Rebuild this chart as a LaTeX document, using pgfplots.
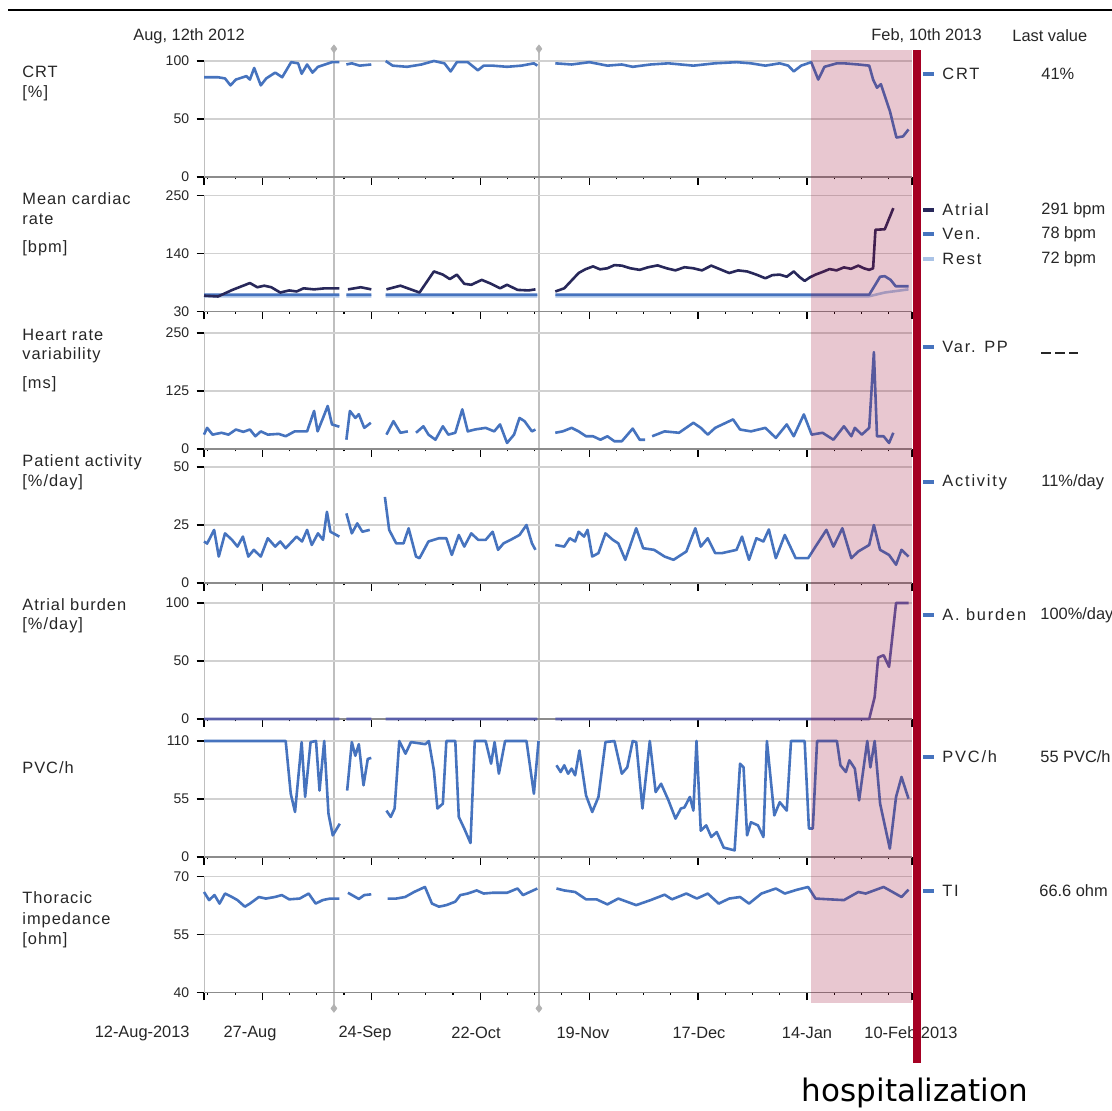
\documentclass[border=0pt]{standalone}
\usepackage{pgfplots}
\pgfplotsset{compat=1.18}
\usepackage{fontspec}
\setmainfont{Liberation Sans}
\newfontfamily\dejavu{DejaVu Sans}
\newfontfamily\lsA{Liberation Sans}[LetterSpace=6.0]
\newfontfamily\lsB{Liberation Sans}[LetterSpace=11.0]
\definecolor{bl}{HTML}{4673BE}
\definecolor{atr}{HTML}{28285A}
\definecolor{rst}{HTML}{AAC3E6}
\definecolor{hosp}{HTML}{A50023}
\definecolor{pk}{RGB}{150,0,40}
\definecolor{abc}{HTML}{5A5FAA}
\definecolor{txt}{HTML}{262626}
\newcommand\lf{\fontsize{8.2}{9.8}\selectfont}
\pgfplotsset{panel/.style={
  scale only axis, width=354pt, height=58pt,
  xmin=0, xmax=182,
  axis x line*=bottom, axis y line*=left,
  x axis line style={draw=black!45, line width=0.6pt, -},
  y axis line style={draw=black!25, line width=0.5pt, -},
  xtick={0,15,43,71,99,127,155,182},
  minor xtick={1,8,22,29,36,50,57,64,78,85,92,106,113,120,134,141,148,162,169,176},
  xticklabels={},
  tick align=outside,
  major tick length=3.75pt, minor tick length=1.2pt,
  tick style={black, line width=0.6pt},
  ymajorgrids, grid style={draw=black!18, line width=0.6pt},
  yticklabel style={font=\fontsize{7}{8}\selectfont, text=txt, inner sep=0pt, xshift=-3.5pt},
  /pgf/number format/assume math mode=true,
  clip=false,
  unbounded coords=jump,
  every axis plot/.append style={line width=1.3pt, line join=round},
}}
\begin{document}
\begin{tikzpicture}
\useasboundingbox (0pt,0pt) rectangle (556pt,-555pt);
\begin{scope}[x=0.5pt,y=-0.5pt]
\draw[line width=0.8pt] (8,10) -- (1112,10);
\draw[black!25, line width=0.6pt] (334,49) -- (334,1010);
\draw[black!25, line width=0.6pt] (539,49) -- (539,1010);
\end{scope}

% CRT
\begin{axis}[panel, at={(102pt,-30.5pt)}, anchor=north west, ymin=0, ymax=100, ytick={0,50,100}]
\addplot[bl] coordinates {(0,86)(3.6,86)(5.4,85)(6.8,79)(8.2,84)(10.9,87)(11.8,84)(12.9,94)(14.6,79)(16,85)(18.3,90)(20.1,86)(22.4,99)(24.2,98)(25.1,89)(26.5,97)(27.9,90)(29.3,95)(31.1,97)(32.9,99)(34.8,99)(35.7,nan)
(36.6,97)(38,98)(40,96)(43,97)(45,nan)
(46.7,100)(48.5,96)(52.2,95)(55.9,97)(59.1,100)(61.8,98)(63.4,91)(65,99)(67.8,99)(70.4,92)(71.9,96)(74.2,96)(77.9,95)(81.6,96)(84.8,98)(85.7,96)(88,nan)
(90.3,98)(94.5,97)(99.1,99)(103.7,96)(107.4,97)(110.2,95)(114.8,97)(119.4,98)(125.8,96)(131.3,98)(136.9,99)(140.6,98)(144.3,96)(148,98)(150.2,96)(151.6,91)(153.5,96)(156.1,99)(157.9,84)(159.5,95)(162.7,98)(164.5,98)(168.2,97)(171,96)(172,84)(173,77)(174,80)(176.3,57)(178,34)(179.7,35)(181.1,41)};
\addplot[only marks, mark=diamond*, black!30, line width=0.3pt, mark size=2pt] coordinates {(33.4,110.5)(86.1,110.5)};
\end{axis}

% Mean cardiac rate
\begin{axis}[panel, at={(102pt,-97.75pt)}, anchor=north west, ymin=30, ymax=250, ytick={30,140,250}]
\addplot[rst] coordinates {(0,59)(34.8,59)(35.7,nan)(36.6,59)(43,59)(45,nan)(46.7,59)(85.7,59)(88,nan)(90.3,59)(171,59)(175,66)(181.1,72)};
\addplot[bl] coordinates {(0,62)(34.8,62)(35.7,nan)(36.6,62)(43,62)(45,nan)(46.7,62)(85.7,62)(88,nan)(90.3,62)(171,62)(172.5,80)(173.8,96)(175,97)(176.5,90)(177.8,78)(181.1,78)};
\addplot[atr] coordinates {(0,60)(3.6,58.5)(7.3,71)(11.8,84)(13.7,76)(15.5,79)(17.3,76)(19.6,66)(21.9,70)(23.8,68)(25.6,74)(28.3,72)(31.1,74)(34.8,74)(35.7,nan)
(37,72)(40.3,76)(43,72)(45,nan)
(46.9,72)(50.5,79)(55.4,66)(59.1,106)(61.4,100)(63.2,91.5)(65,100)(66.9,82.6)(68.7,80.7)(71.4,90)(73.8,82.6)(76.1,74)(77.9,80.7)(80.6,71)(83.4,70)(85.2,72)(88,nan)
(90.3,68)(92.6,74)(96.3,103)(98,110)(100,115.6)(101.8,110)(103.7,112)(105.5,118)(107.4,117)(109.6,112)(112,109)(114.2,114)(116.6,117.5)(118.9,112)(121.2,108)(123.5,114)(125.8,112)(128,108)(130.4,117)(132.7,110)(135,103)(137.3,108)(139.6,106)(142,100)(144.3,93)(146.1,99)(148,100)(149.8,96)(151.6,106)(153,96)(154.4,88)(155.8,95)(157.2,100)(159,105)(160.8,110.5)(162.6,108)(164.5,113.7)(166.3,111)(168.2,117)(169.6,112)(171,109)(172,112)(172.6,185)(175,186)(177.2,226)};
\end{axis}

% HRV
\begin{axis}[panel, at={(102pt,-166.5pt)}, anchor=north west, ymin=0, ymax=250, ytick={0,125,250}]
\addplot[bl] coordinates {(0,31)(0.8,45.6)(2.2,31)(4.5,35)(6.3,31)(8.2,42)(10.1,37)(11.8,42)(13.2,27.5)(14.6,38)(16.4,31)(19.2,32.6)(21,27.5)(23.3,38)(26.5,38)(28.3,82)(29.2,38)(30.6,67)(31.8,92.8)(32.9,53)(34.8,48)(35.7,nan)
(36.6,20)(37.5,82)(38.9,67)(39.8,75)(41.2,45.6)(42.9,56.5)(45,nan)
(46.9,31)(48.7,60)(50.5,35)(52.4,38)(53.4,nan)
(54.5,35)(56.4,49)(57.7,31)(59.5,20)(61.4,49)(62.8,31)(64.6,35)(66.4,85.5)(67.8,38)(69.6,42)(72.4,45.6)(74.6,38)(76.1,53)(77.9,13)(79.7,31)(81.1,67)(82.4,60)(84.3,38)(85.2,42)(88,nan)
(90.3,35)(92.2,38)(94.5,45.6)(96.3,38)(98.2,27.5)(100,27.5)(101.9,20)(103.7,27.5)(105.5,16.7)(107.4,16.7)(110.2,44)(112,20)(113.4,20)(114.3,nan)
(115.2,27.5)(118.4,38)(122.1,35)(125.8,56.5)(127.7,45.6)(129.5,31)(131.4,45.6)(136,63.8)(137.8,42)(140.6,38)(144.3,45.6)(147,24)(149.8,53)(151.6,27.5)(154.2,74.6)(156.2,31)(159,35)(161.8,20)(164.5,49)(166.4,27.5)(167.3,45.6)(169.1,31)(171,45.6)(172.2,208.7)(173,27.5)(174.7,27.5)(176.1,13)(177.2,35)};
\end{axis}

% Activity
\begin{axis}[panel, at={(102pt,-233.5pt)}, anchor=north west, ymin=0, ymax=50, ytick={0,25,50}]
\addplot[bl] coordinates {(0,17.9)(0.8,17)(2.6,22.9)(3.8,11.4)(5.4,21.4)(7.2,18.6)(8.6,15.7)(10,20)(11.4,11.4)(12.8,14.3)(14.6,11.4)(16.4,19.3)(18.3,15.7)(19.6,17.9)(21,15)(23.8,20)(25.2,17.9)(26.5,22.9)(27.7,16.4)(29.3,21.4)(30.6,18.6)(31.6,30.7)(32.5,22.1)(34.8,20)(35.7,nan)
(36.6,30)(38,21.4)(39.4,25.7)(40.7,22.1)(42.6,22.9)(45,nan)
(46.5,37.1)(47.6,22.9)(49.4,17.1)(51.3,17.1)(52.6,23.6)(54.5,11.4)(55.4,10.7)(57.7,17.9)(60.4,19.3)(62.3,19.3)(63.7,12.1)(65.5,20.7)(66.9,15.7)(68.7,21.4)(70.5,18.6)(72.4,18.6)(74.2,22.1)(75.6,14.3)(77,17.1)(78.8,18.6)(81.1,20.7)(82.9,25)(84.3,17.1)(85.2,14.3)(88,nan)
(90.3,16.4)(92.6,15.7)(94,19.3)(95.4,17.9)(96.3,22.1)(97.7,20)(98.6,22.9)(99.8,11.4)(101.4,12.9)(103.2,21.4)(105.1,18.6)(106.5,17.1)(108.3,10)(111.1,23.6)(112.9,15)(115.7,14.3)(118.4,11.4)(120.7,10)(124,13.6)(126.3,23.6)(127.7,15.7)(129.5,19.3)(131.4,12.9)(133.2,12.9)(136.9,14.3)(138.3,20)(140.1,10)(142,19.3)(143.8,17.9)(145.2,23.1)(147,10.7)(149.3,20.7)(152.1,10.7)(155.3,10.7)(157.2,15.7)(160,22.9)(161.8,15.7)(164.1,23.6)(166.4,10.7)(168.2,13.6)(171,16.4)(172.2,25)(173.8,14.3)(176.1,12.1)(177.9,7.9)(179.3,14.3)(181.1,11.4)};
\end{axis}

% Atrial burden
\begin{axis}[panel, at={(102pt,-301.5pt)}, anchor=north west, ymin=0, ymax=100, ytick={0,50,100}]
\addplot[abc] coordinates {(0,0)(34.8,0)(35.7,nan)(36.6,0)(43,0)(45,nan)(46.7,0)(85.7,0)(88,nan)(90.3,0)(171,0)(172.4,19)(173.3,53)(174.7,55)(176.1,45)(177.9,100)(181.1,100)};
\end{axis}

% PVC/h
\begin{axis}[panel, at={(102pt,-370.5pt)}, anchor=north west, ymin=0, ymax=110, ytick={0,55,110}]
\addplot[bl] coordinates {(0,110)(21,110)(22.3,60)(23.4,42.7)(25.1,109)(26,57)(27.4,109)(28.8,110)(29.7,63)(30.9,110)(32,41)(33.1,20.5)(34.9,31.6)(35.8,nan)
(36.8,63)(38,109)(38.9,96)(39.8,107)(41,68)(42.1,93)(43,94)(45,nan)
(46.9,44)(48,38)(49,46)(50.2,110)(51.8,98)(53.2,109)(56.9,107)(57.8,110)(59.1,82)(60,46)(61.4,50.6)(62.3,110)(64.6,110)(65.5,38)(66.9,27)(68.5,13.3)(69.6,110)(72.4,110)(73.8,88.5)(74.7,109)(75.8,79)(77.4,110)(82.9,110)(84.8,60)(86,110)(88,nan)
(90.6,87)(91.7,80.6)(92.6,87)(93.6,79)(94.5,83.8)(95.4,77.5)(96.5,101)(98.2,58.5)(99.8,42.7)(101.4,57)(103.2,109)(105.5,110)(107.4,79)(108.8,85)(110.2,110)(111.1,109)(112.7,46)(114.6,110)(116.1,61.6)(117.5,69.5)(119.4,53.7)(121.2,36.4)(122.6,46)(123.5,47)(124.9,57)(125.8,44)(126.6,110)(127.7,25)(129.1,30)(130.4,19)(131.8,23.7)(133.6,8.9)(136.4,6.3)(137.8,88.5)(138.7,85)(139.6,20.5)(140.6,33)(142.4,30)(143.8,19)(144.7,110)(146.6,39.5)(148,52)(149.8,44)(150.9,110)(154.4,110)(155.5,27)(156.5,27)(157.6,110)(162.7,110)(163.6,87)(165,80.6)(165.9,91.7)(167.3,83.8)(168.4,53.7)(170.5,110)(171.3,85)(172.4,110)(173.8,50.6)(176.3,7.9)(177.9,57)(179.3,75.9)(181.1,55.3)};
\end{axis}

% Thoracic impedance
\begin{axis}[panel, at={(102pt,-438.25pt)}, anchor=north west, ymin=40, ymax=70, ytick={40,55,70}]
\addplot[bl] coordinates {(0,66)(1.3,63.9)(2.7,65.2)(4,63)(5.4,65.6)(7.2,64.7)(8.6,63.9)(10.5,62.2)(11.8,63)(14.1,64.7)(15.9,64.3)(18.2,64.7)(20,65.2)(21.9,64.1)(24.6,64.3)(26.9,65.6)(28.7,63)(30.5,63.9)(32.4,64.3)(34.8,64.3)(35.8,nan)
(37,65.8)(39.8,64.2)(41.2,65.2)(43,65.4)(45,nan)
(47.2,64.3)(49.4,64.3)(51.7,64.7)(54,66)(56.8,67.3)(58.6,63)(60.4,62.2)(62.3,62.6)(64.6,63.5)(65.9,65.2)(67.8,65.6)(70.1,66.4)(71.9,65.6)(74.2,65.8)(77.9,65.8)(80.6,66.9)(82,65.2)(85.7,66.9)(88,nan)
(90.6,66.9)(92.6,66.4)(95.4,66)(98.2,64.1)(100.9,64.1)(103.7,62.8)(106.5,64.3)(111.1,62.6)(114.8,63.9)(118.4,65.3)(120.3,64.1)(124,65.6)(126.7,64.3)(129.5,65.6)(132.3,63)(135,64.3)(137.8,64.7)(140.1,63)(143.3,65.6)(147,66.9)(149.3,65.6)(152.5,66.6)(155.3,67.3)(157.2,64.3)(160.8,64.1)(164.5,63.9)(168.2,66)(170.1,65.6)(174.7,67.3)(179.3,64.7)(181.1,66.6)};
\addplot[only marks, mark=diamond*, black!30, line width=0.3pt, mark size=2pt] coordinates {(33.4,35.9)(86.1,35.9)};
\end{axis}

\begin{scope}[x=0.5pt,y=-0.5pt]
\begin{scope}[every node/.style={inner sep=0pt, text=txt, font=\lf}]
\node[anchor=east] at (190,1033) {12-Aug-2013};
\node at (250,1033) {27-Aug};
\node at (365,1033) {24-Sep};
\node at (476,1033) {22-Oct};
\node at (583,1033) {19-Nov};
\node at (699,1033) {17-Dec};
\node at (807,1033) {14-Jan};
\node[anchor=west] at (864,1033) {10-Feb 2013};
\end{scope}

\fill[pk, opacity=0.22] (811,50) rectangle (912,1003);
\fill[hosp] (913,50) rectangle (921,1063);

\begin{scope}[every node/.style={anchor=west, inner sep=0pt, text=txt, font=\lf}]
\node at (133,36) {Aug, 12th 2012};
\node at (871,36) {Feb, 10th 2013};
\node at (1012,36) {Last value};
\end{scope}
\begin{scope}[every node/.style={anchor=west, inner sep=0pt, text=txt, font=\lsA\lf}]
\node at (22,72) {CRT};
\node at (22,93) {[\%]};
\node at (22,199) {Mean cardiac};
\node at (22,219) {rate};
\node at (22,248) {[bpm]};
\node at (22,335) {Heart rate};
\node at (22,355) {variability};
\node at (22,384) {[ms]};
\node at (22,462) {Patient activity};
\node at (22,482) {[\%/day]};
\node at (22,605) {Atrial burden};
\node at (22,625) {[\%/day]};
\node at (22,768) {PVC/h};
\node at (22,898) {Thoracic};
\node at (22,920) {impedance};
\node at (22,940) {[ohm]};
\end{scope}
\begin{scope}[every node/.style={anchor=west, inner sep=0pt, text=txt, font=\lsB\lf}]
\node at (942,74) {CRT};
\node at (942,210) {Atrial};
\node at (942,234) {Ven.};
\node at (942,259) {Rest};
\node at (942,347) {Var. PP};
\node at (942,482) {Activity};
\node at (942,615) {A. burden};
\node at (942,757) {PVC/h};
\node at (942,891) {TI};
\end{scope}
\begin{scope}[every node/.style={anchor=west, inner sep=0pt, text=txt, font=\lf}]
\node at (1041,74) {41\%};
\node at (1041,210) {291 bpm};
\node at (1041,234) {78 bpm};
\node at (1041,259) {72 bpm};
\node at (1041,482) {11\%/day};
\node at (1040,615) {100\%/day};
\node at (1040,757) {55 PVC/h};
\node at (1039,891) {66.6 ohm};
\end{scope}
\draw[txt, line width=0.6pt, dash pattern=on 5pt off 2pt] (1041,353) -- (1078,353);
\foreach \yy in {74,234,347,482,615,757,891} \draw[bl, line width=1.7pt] (923,\yy) -- (934,\yy);
\draw[atr, line width=1.7pt] (923,210) -- (934,210);
\draw[rst, line width=1.7pt] (923,259) -- (934,259);
\node[inner sep=0pt, font=\dejavu\fontsize{15.5}{18}\selectfont] at (915,1093) {hospitalization};
\end{scope}
\end{tikzpicture}
\end{document}
